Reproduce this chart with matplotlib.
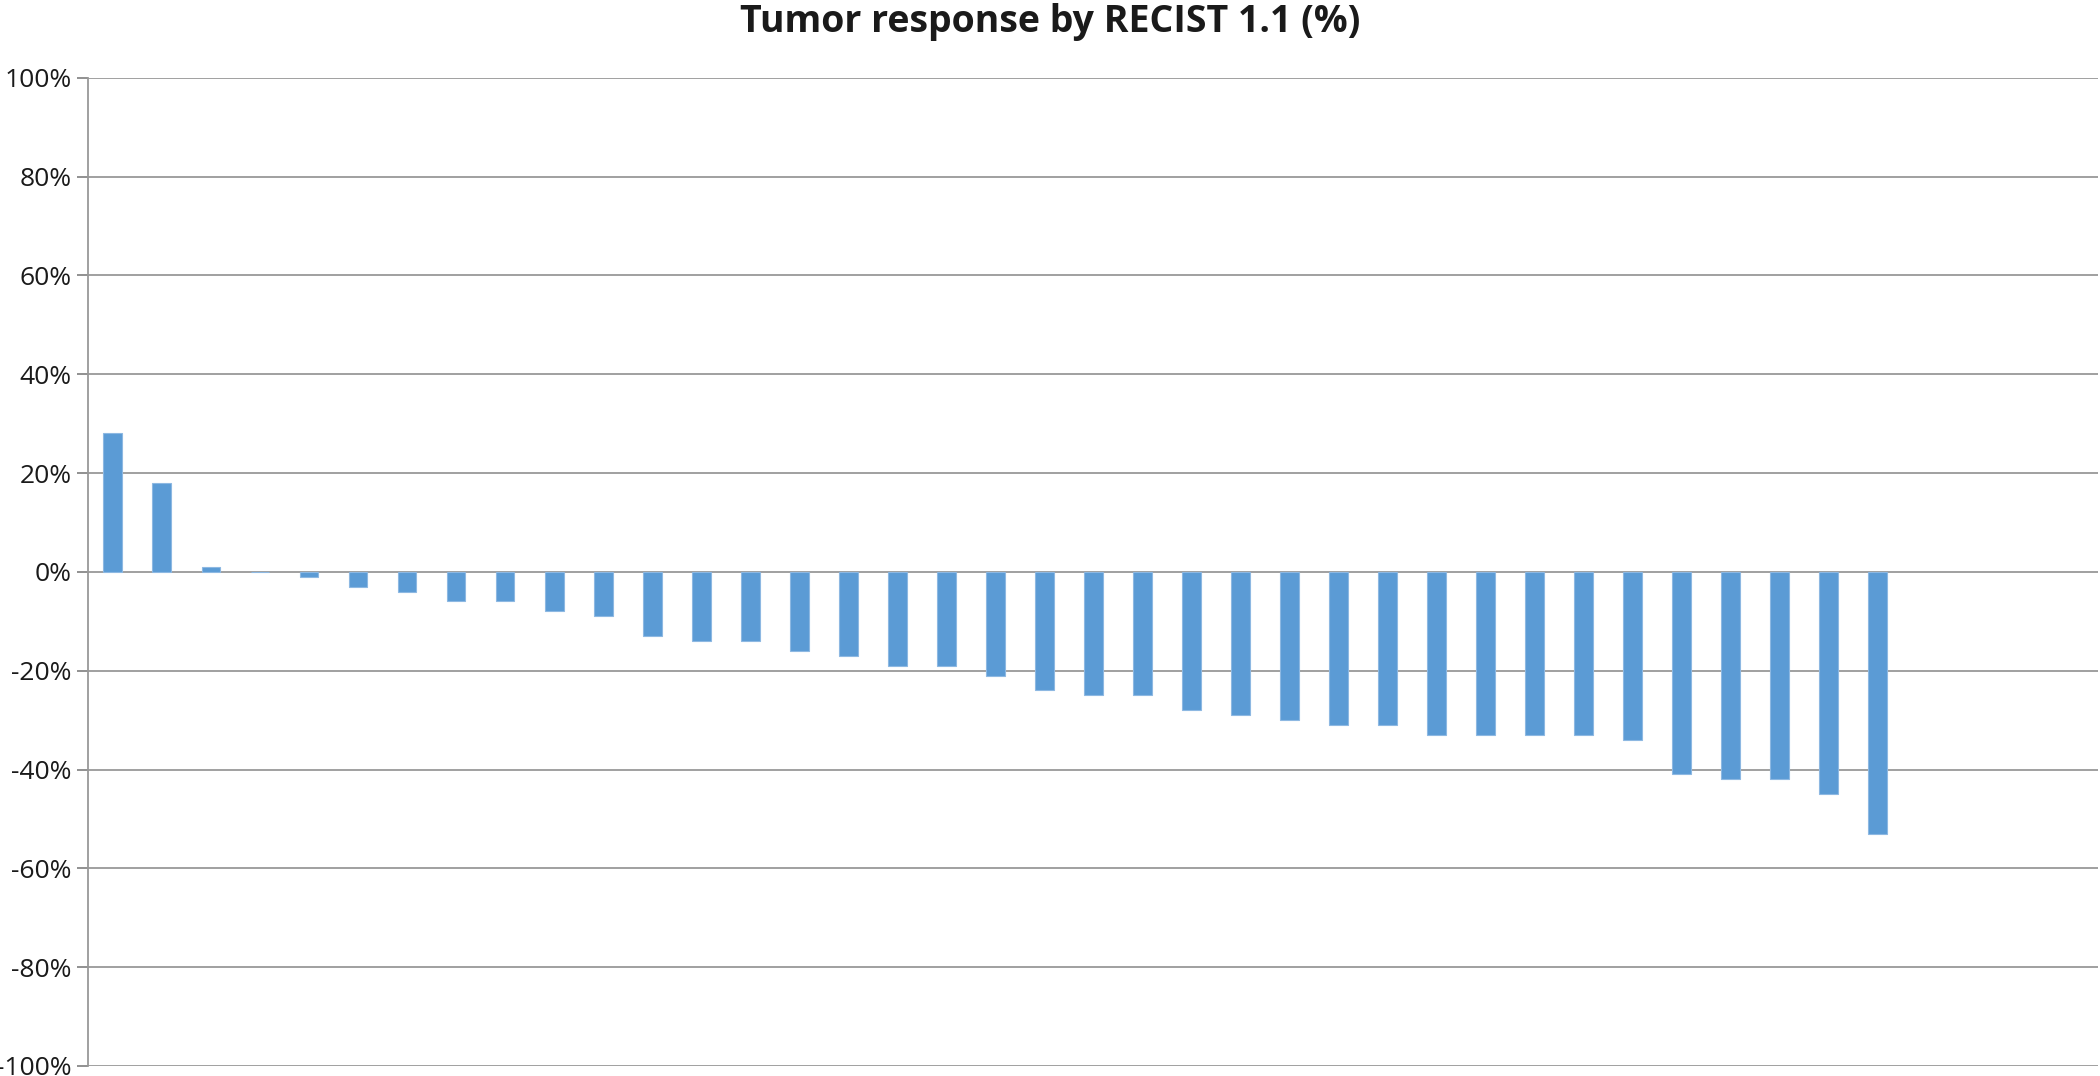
import matplotlib
matplotlib.use("Agg")
import matplotlib.pyplot as plt
from matplotlib.ticker import FuncFormatter

# Data (tumor response, %), sorted waterfall; trailing empty categories
patients = [f"P{i+1}" for i in range(41)]
response = [28, 18, 1, 0, -1, -3, -4, -6, -6, -8, -9, -13, -14, -14, -16, -17,
            -19, -19, -21, -24, -25, -25, -28, -29, -30, -31, -31, -33, -33,
            -33, -33, -34, -41, -42, -42, -45, -53]
y_ticks = [-100, -80, -60, -40, -20, 0, 20, 40, 60, 80, 100]

plt.rcParams['font.family'] = ['Open Sans', 'DejaVu Sans']

fig = plt.figure(figsize=(21, 10.76), dpi=100)
ax = fig.add_axes([0.0421, 0.0093, 0.957, 0.9185])

x = list(range(len(response)))
ax.bar(x, response, width=0.385, color='#5B9BD5', edgecolor='#8DB8E2',
       linewidth=0.8, zorder=3)

ax.set_xlim(-0.5, len(patients) - 0.5)
ax.set_ylim(-100, 100)
ax.set_yticks(y_ticks)
ax.yaxis.set_major_formatter(FuncFormatter(lambda v, p: f"{int(v)}%"))
ax.tick_params(axis='y', labelsize=19, colors='#888888', length=8, width=1.3,
               labelcolor='#1a1a1a', pad=4)
ax.tick_params(axis='x', bottom=False, labelbottom=False)
ax.grid(axis='y', color='#a0a0a0', linewidth=1.4, zorder=0)
for s in ['top', 'right', 'bottom']:
    ax.spines[s].set_visible(False)
ax.spines['left'].set_color('#999999')
ax.spines['left'].set_linewidth(1.3)

fig.text(0.5, 1 - 22 / 1076, "Tumor response by RECIST 1.1 (%)", ha='center',
         va='center', fontsize=27, fontweight='bold', color='#1a1a1a')

fig.savefig("out.png", dpi=100, facecolor='white')
